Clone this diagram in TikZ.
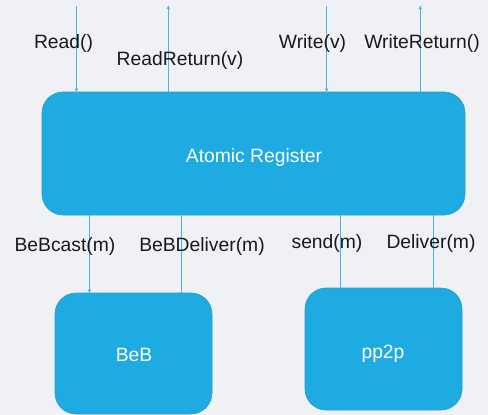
\documentclass[tikz,border=0pt]{standalone}
\usepackage{fontspec}
\setmainfont{Liberation Sans}
\usetikzlibrary{arrows.meta}
\definecolor{bg}{HTML}{F0F1F5}
\definecolor{boxfill}{HTML}{1EABE2}
\definecolor{boxedge}{HTML}{2A9BCB}
\definecolor{wire}{HTML}{45B5E5}
\begin{document}
\begin{tikzpicture}[x=1pt,y=-1pt,
  blk/.style={draw=boxedge,line width=0.6pt,fill=boxfill,rounded corners=21pt,inner sep=0pt},
  lbl/.style={anchor=base,inner sep=0pt,font=\fontsize{19.3}{23}\selectfont,text=black!90},
  intext/.style={anchor=base,inner sep=0pt,font=\fontsize{19.3}{23}\selectfont,text=white},
  wirel/.style={draw=wire,line width=0.8pt},
  arr/.style={wirel,-{Stealth[length=4pt,width=3.5pt]}}]
\fill[bg] (0,0) rectangle (488,415);
\useasboundingbox (0,0) rectangle (488,415);
% boxes
\path[blk] (42,92) rectangle (465,215);
\coordinate (regN) at (0,92);
\coordinate (regS) at (0,215);
\path[blk] (55,293) rectangle (212,414);
\coordinate (bebN) at (0,293);
\path[blk] (305,288) rectangle (462,410);
\coordinate (ppN) at (0,288);
\node[intext] (reg) at (254,162) {Atomic Register};
\node[intext] (beb) at (134,361) {BeB};
\node[intext] (pp) at (383,358) {pp2p};
% top wires
\coordinate (t1) at (76.3,5.5);
\coordinate (t2) at (168.3,5.5);
\coordinate (t3) at (326.7,5.5);
\coordinate (t4) at (420.3,5.5);
\draw[arr] (t1) -- (t1 |- regN);
\draw[arr] (t2 |- regN) -- (t2);
\draw[arr] (t3) -- (t3 |- regN);
\draw[arr] (t4 |- regN) -- (t4);
% bottom wires
\coordinate (b1) at (89.3,215);
\coordinate (b2) at (181.7,215);
\coordinate (b3) at (340,215);
\coordinate (b4) at (433.3,215);
\draw[arr] (b1) -- (b1 |- bebN);
\draw[wirel] (b2) -- (b2 |- bebN);
\draw[wirel] (b3) -- (b3 |- ppN);
\draw[wirel] (b4) -- (b4 |- ppN);
% labels
\node[lbl] (l1) at (63.5,48) {Read()};
\node[lbl] (l2) at (180,65) {ReadReturn(v)};
\node[lbl] (l3) at (312.5,48) {Write(v)};
\node[lbl] (l4) at (422,48) {WriteReturn()};
\node[lbl] (l5) at (65,251) {BeBcast(m)};
\node[lbl] (l6) at (202,251) {BeBDeliver(m)};
\node[lbl] (l7) at (327,248) {send(m)};
\node[lbl] (l8) at (431,248) {Deliver(m)};
\end{tikzpicture}
\end{document}
